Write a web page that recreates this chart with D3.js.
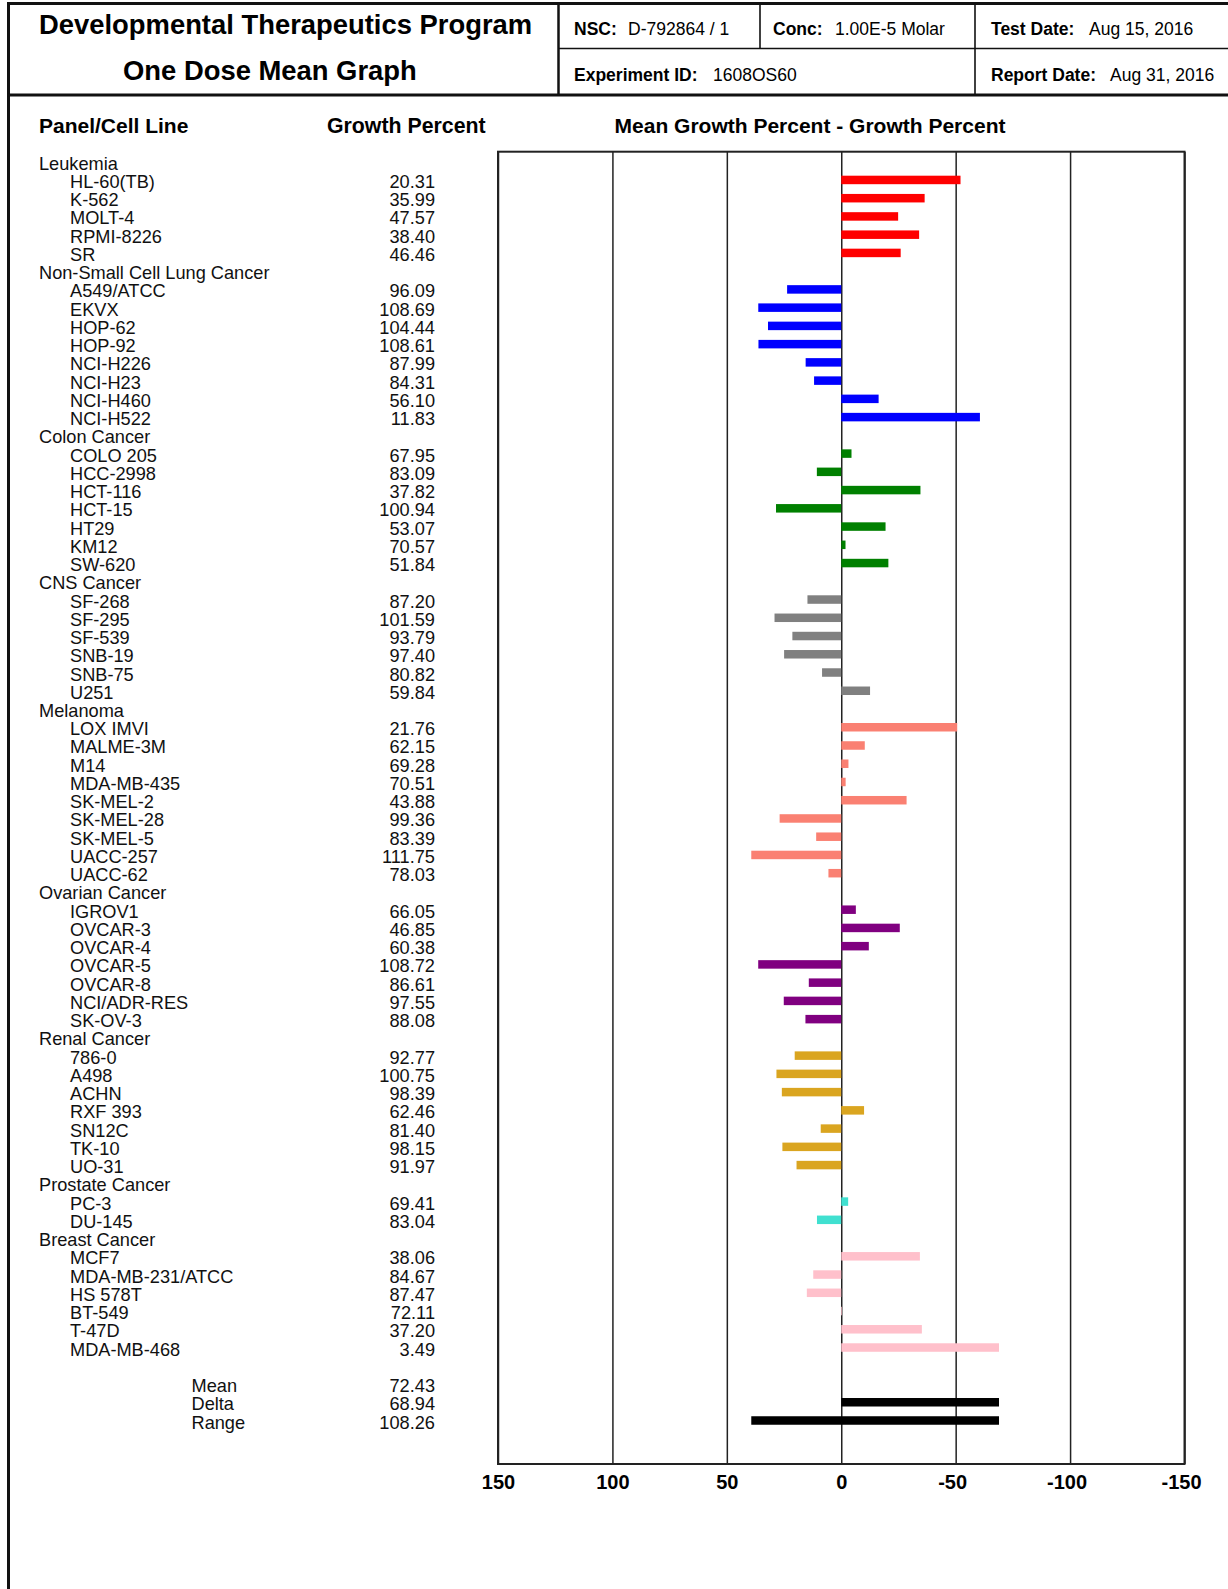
<!DOCTYPE html>
<html>
<head>
<meta charset="utf-8">
<script src="https://cdn.jsdelivr.net/npm/d3@7"></script>
<style>
  html, body { margin: 0; padding: 0; background: #fff; }
  svg { display: block; font-family: "Liberation Sans", Arial, Helvetica, sans-serif; }
</style>
</head>
<body>
<svg id="chart" width="1228" height="1589"></svg>
<script>
// Panels and their bar colours
const panels = ["Leukemia", "Non-Small Cell Lung Cancer", "Colon Cancer", "CNS Cancer",
  "Melanoma", "Ovarian Cancer", "Renal Cancer", "Prostate Cancer", "Breast Cancer"];
const panelColors = ["#ff0000", "#0000ff", "#008000", "#808080",
  "#fa8072", "#800080", "#daa520", "#40e0d0", "#ffc0cb"];

// Cell lines, the panel each belongs to, and the growth percent at 1.00E-5 M
const cellLines = [
  "HL-60(TB)", "K-562", "MOLT-4", "RPMI-8226", "SR",
  "A549/ATCC", "EKVX", "HOP-62", "HOP-92", "NCI-H226", "NCI-H23", "NCI-H460", "NCI-H522",
  "COLO 205", "HCC-2998", "HCT-116", "HCT-15", "HT29", "KM12", "SW-620",
  "SF-268", "SF-295", "SF-539", "SNB-19", "SNB-75", "U251",
  "LOX IMVI", "MALME-3M", "M14", "MDA-MB-435", "SK-MEL-2", "SK-MEL-28", "SK-MEL-5", "UACC-257", "UACC-62",
  "IGROV1", "OVCAR-3", "OVCAR-4", "OVCAR-5", "OVCAR-8", "NCI/ADR-RES", "SK-OV-3",
  "786-0", "A498", "ACHN", "RXF 393", "SN12C", "TK-10", "UO-31",
  "PC-3", "DU-145",
  "MCF7", "MDA-MB-231/ATCC", "HS 578T", "BT-549", "T-47D", "MDA-MB-468"
];
const cellPanel = [
  0, 0, 0, 0, 0,
  1, 1, 1, 1, 1, 1, 1, 1,
  2, 2, 2, 2, 2, 2, 2,
  3, 3, 3, 3, 3, 3,
  4, 4, 4, 4, 4, 4, 4, 4, 4,
  5, 5, 5, 5, 5, 5, 5,
  6, 6, 6, 6, 6, 6, 6,
  7, 7,
  8, 8, 8, 8, 8, 8
];
const growthPercent = [
  20.31, 35.99, 47.57, 38.40, 46.46,
  96.09, 108.69, 104.44, 108.61, 87.99, 84.31, 56.10, 11.83,
  67.95, 83.09, 37.82, 100.94, 53.07, 70.57, 51.84,
  87.20, 101.59, 93.79, 97.40, 80.82, 59.84,
  21.76, 62.15, 69.28, 70.51, 43.88, 99.36, 83.39, 111.75, 78.03,
  66.05, 46.85, 60.38, 108.72, 86.61, 97.55, 88.08,
  92.77, 100.75, 98.39, 62.46, 81.40, 98.15, 91.97,
  69.41, 83.04,
  38.06, 84.67, 87.47, 72.11, 37.20, 3.49
];

// Summary statistics
const statLabels = ["Mean", "Delta", "Range"];
const statValues = [72.43, 68.94, 108.26];

// Axis ticks (mean growth percent minus growth percent, reversed)
const tickValues = [150, 100, 50, 0, -50, -100, -150];

// Header fields
const headerTitles = ["Developmental Therapeutics Program", "One Dose Mean Graph"];
const headerFields = [
  { label: "NSC:", value: "D-792864 / 1" },
  { label: "Conc:", value: "1.00E-5 Molar" },
  { label: "Test Date:", value: "Aug 15, 2016" },
  { label: "Experiment ID:", value: "1608OS60" },
  { label: "Report Date:", value: "Aug 31, 2016" }
];
const columnTitles = ["Panel/Cell Line", "Growth Percent", "Mean Growth Percent - Growth Percent"];

// ---------------------------------------------------------------
const svg = d3.select("#chart");
const mean = statValues[0];
const minGP = d3.min(growthPercent);
const maxGP = d3.max(growthPercent);

// Build the list of rows: panel heading, its cell lines, then a gap and the stats
const rows = [];
panels.forEach((p, pi) => {
  rows.push({ kind: "panel", label: p });
  cellLines.forEach((c, i) => {
    if (cellPanel[i] === pi) {
      rows.push({ kind: "cell", label: c, gp: growthPercent[i], color: panelColors[pi],
        x0: 0, x1: growthPercent[i] - mean });
    }
  });
});
rows.push({ kind: "gap", label: "" });
rows.push({ kind: "stat", label: statLabels[0], gp: statValues[0] });
rows.push({ kind: "stat", label: statLabels[1], gp: statValues[1], color: "#000",
  x0: 0, x1: minGP - mean });
rows.push({ kind: "stat", label: statLabels[2], gp: statValues[2], color: "#000",
  x0: maxGP - mean, x1: minGP - mean });

// Scales
const plotLeft = 498, plotRight = 1184.5, plotTop = 151.7, plotBottom = 1464;
const x = d3.scaleLinear().domain([150, -150]).range([plotLeft, plotRight]);
const y = d3.scalePoint().domain(d3.range(rows.length)).range([161.7, 1420.5]);
const barH = 8.5;

// ---------------- Frame and header ----------------
const frame = svg.append("g").attr("stroke", "#111").attr("fill", "none");
frame.append("line").attr("x1", 8.5).attr("x2", 8.5).attr("y1", 2).attr("y2", 1589).attr("stroke-width", 3);
frame.append("line").attr("x1", 7).attr("x2", 1228).attr("y1", 3.5).attr("y2", 3.5).attr("stroke-width", 3);
frame.append("line").attr("x1", 7).attr("x2", 1228).attr("y1", 95).attr("y2", 95).attr("stroke-width", 3);
frame.append("line").attr("x1", 558.5).attr("x2", 558.5).attr("y1", 3.5).attr("y2", 95).attr("stroke-width", 2.5);
frame.append("line").attr("x1", 558.5).attr("x2", 1228).attr("y1", 48.5).attr("y2", 48.5).attr("stroke-width", 1.6);
frame.append("line").attr("x1", 760).attr("x2", 760).attr("y1", 3.5).attr("y2", 48.5).attr("stroke-width", 1.6);
frame.append("line").attr("x1", 975).attr("x2", 975).attr("y1", 3.5).attr("y2", 95).attr("stroke-width", 1.6);

svg.append("text").attr("x", 39).attr("y", 34)
  .attr("font-size", 27.4).attr("font-weight", "bold").text(headerTitles[0]);
svg.append("text").attr("x", 123).attr("y", 79.5)
  .attr("font-size", 27.4).attr("font-weight", "bold").text(headerTitles[1]);

const fieldPos = [
  { x: 574, y: 34.5, vx: 628 },
  { x: 773, y: 34.5, vx: 835 },
  { x: 991, y: 34.5, vx: 1089 },
  { x: 574, y: 80.5, vx: 713 },
  { x: 991, y: 80.5, vx: 1110 }
];
headerFields.forEach((f, i) => {
  const p = fieldPos[i];
  svg.append("text").attr("x", p.x).attr("y", p.y).attr("font-size", 17.5)
    .attr("font-weight", "bold").text(f.label);
  svg.append("text").attr("x", p.vx).attr("y", p.y).attr("font-size", 17.5).text(f.value);
});

// Column titles
svg.append("text").attr("x", 39).attr("y", 133).attr("font-size", 21)
  .attr("font-weight", "bold").text(columnTitles[0]);
svg.append("text").attr("x", 327).attr("y", 133).attr("font-size", 21.3)
  .attr("font-weight", "bold").text(columnTitles[1]);
svg.append("text").attr("x", 810).attr("y", 133).attr("font-size", 21)
  .attr("font-weight", "bold").attr("text-anchor", "middle").text(columnTitles[2]);

// ---------------- Row labels and values ----------------
const labelX = { panel: 39, cell: 70, stat: 191.5, gap: 0 };
const rowG = svg.append("g").attr("font-size", 18.2).attr("fill", "#111");
rows.forEach((r, i) => {
  if (r.kind === "gap") return;
  rowG.append("text").attr("x", labelX[r.kind]).attr("y", y(i) + 8).text(r.label);
  if (r.gp !== undefined) {
    rowG.append("text").attr("x", 435).attr("y", y(i) + 8)
      .attr("text-anchor", "end").text(r.gp.toFixed(2));
  }
});

// ---------------- Plot: grid via axis, bars, box ----------------
const axis = d3.axisBottom(x)
  .tickValues(tickValues)
  .tickSizeInner(-(plotBottom - plotTop))
  .tickSizeOuter(0)
  .tickPadding(11)
  .tickFormat(d => String(d));

const axisG = svg.append("g")
  .attr("transform", `translate(0,${plotBottom})`)
  .call(axis);
axisG.select(".domain").remove();
axisG.selectAll(".tick line").attr("stroke", "#222").attr("stroke-width", 1.5);
axisG.selectAll(".tick text")
  .attr("font-size", 20).attr("font-weight", "bold").attr("fill", "#000")
  .attr("font-family", "\"Liberation Sans\", Arial, Helvetica, sans-serif")
  .attr("dx", d => d < 0 ? -3.5 : 0);

const bars = rows.map((r, i) => ({ ...r, i })).filter(r => r.color);
svg.append("g").selectAll("rect").data(bars).join("rect")
  .attr("x", d => Math.min(x(d.x0), x(d.x1)))
  .attr("width", d => Math.abs(x(d.x1) - x(d.x0)))
  .attr("y", d => y(d.i) - barH / 2)
  .attr("height", barH)
  .attr("fill", d => d.color);

svg.append("rect")
  .attr("x", plotLeft).attr("y", plotTop)
  .attr("width", plotRight - plotLeft).attr("height", plotBottom - plotTop)
  .attr("fill", "none").attr("stroke", "#222").attr("stroke-width", 2);
</script>
</body>
</html>
